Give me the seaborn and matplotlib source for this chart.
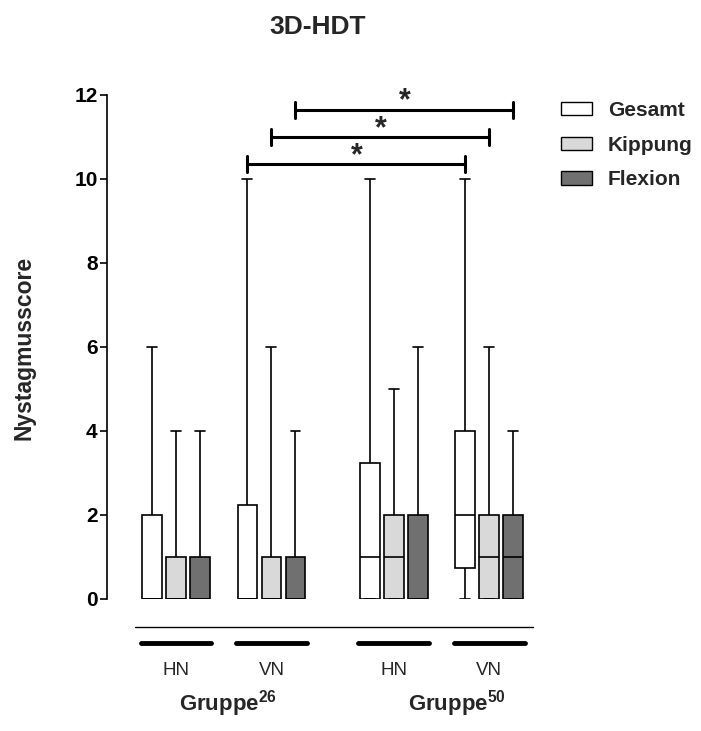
import numpy as np
import pandas as pd
import seaborn as sns
import matplotlib.pyplot as plt
from matplotlib.patches import Patch

# conditions on the x axis
lage = ["HN", "VN", "HN", "VN"]
x_pos = [0, 1, 2.28, 3.28]
gruppen = ["Gruppe$^{\\mathbf{26}}$", "Gruppe$^{\\mathbf{50}}$"]
bedingungen = ["Gesamt", "Kippung", "Flexion"]
farben = ["white", "#d9d9d9", "#707070"]

# five-number summaries (min, Q1, median, Q3, max)
gesamt = [[0, 0, 0, 2, 6], [0, 0, 0, 2.25, 10], [0, 0, 1, 3.25, 10], [0, 0.75, 2, 4, 10]]
kippung = [[0, 0, 0, 1, 4], [0, 0, 0, 1, 6], [0, 0, 1, 2, 5], [0, 0, 1, 2, 6]]
flexion = [[0, 0, 0, 1, 4], [0, 0, 0, 1, 4], [0, 0, 0, 2, 6], [0, 0, 1, 2, 4]]

rows = []
for name, werte in zip(bedingungen, [gesamt, kippung, flexion]):
    for pos, five in zip(x_pos, werte):
        for v in five:
            rows.append({"pos": pos, "Bedingung": name, "score": v})
df = pd.DataFrame(rows)

sns.set_style("white")
plt.rcParams["font.family"] = ["Liberation Sans", "DejaVu Sans"]
plt.rcParams["mathtext.fontset"] = "custom"
plt.rcParams["mathtext.rm"] = "Liberation Sans"
plt.rcParams["mathtext.bf"] = "Liberation Sans:bold"

fig = plt.figure(figsize=(7.01, 7.31), dpi=100)
ax = fig.add_axes([106.7 / 701, 132 / 731, (545 - 106.7) / 701, 504 / 731])

box_w = 0.754
sns.boxplot(data=df, x="pos", y="score", hue="Bedingung", hue_order=bedingungen,
            palette=dict(zip(bedingungen, farben)), saturation=1, native_scale=True,
            width=box_w, gap=0.167, whis=(0, 100), linecolor="black", linewidth=1.2,
            legend=False, ax=ax)

ax.set_xlim(-0.7257, 3.864)
ax.set_ylim(0, 12)
ax.set_yticks(range(0, 13, 2))
ax.set_xticks([])
ax.set_xlabel("")
ax.set_ylabel("")
for s in ["top", "right", "bottom"]:
    ax.spines[s].set_visible(False)
ax.spines["left"].set_bounds(0, 12)
ax.spines["left"].set_linewidth(1.2)
ax.spines["left"].set_color("black")
ax.tick_params(axis="y", left=True, direction="out", length=5, width=1.2,
               labelsize=15, pad=1.5, color="black", labelcolor="black")
for lbl in ax.get_yticklabels():
    lbl.set_fontweight("bold")

fig.text(24 / 701, 1 - 348 / 731, "Nystagmusscore", rotation=90, ha="center",
         va="center", fontsize=16.5, fontweight="bold")
fig.text(318 / 701, 1 - 27 / 731, "3D-HDT", ha="center", va="center",
         fontsize=19, fontweight="bold")

# significance brackets (VN Gruppe26 vs VN Gruppe50, per condition)
dw = box_w / 3
klammer_y = [10.35, 11.0, 11.65]
for k, yb in enumerate(klammer_y):
    x1 = x_pos[1] + (k - 1) * dw
    x2 = x_pos[3] + (k - 1) * dw
    ax.plot([x1, x2], [yb, yb], color="black", lw=2.2, clip_on=False, solid_capstyle="butt")
    for xe in (x1, x2):
        ax.plot([xe, xe], [yb - 0.19, yb + 0.19], color="black", lw=2.2, clip_on=False)
    ax.text((x1 + x2) / 2, yb, "*", ha="center", va="baseline", fontsize=22,
            fontweight="bold")

# group annotation below the boxes
ax.plot([min(x_pos) - 0.43, max(x_pos) + 0.46], [-0.667, -0.667], color="black",
        lw=1.0, clip_on=False)
for pos, lab in zip(x_pos, lage):
    ax.plot([pos - 0.37, pos + 0.37], [-1.05, -1.05], color="black", lw=3.5,
            clip_on=False, solid_capstyle="round")
    ax.text(pos, -1.81, lab, ha="center", va="baseline", fontsize=13.5)
gruppen_x = [0.55, 2.94]
for gx, lab in zip(gruppen_x, gruppen):
    ax.text(gx, -2.66, lab, ha="center", va="baseline", fontsize=16, fontweight="bold")

handles = [Patch(facecolor=c, edgecolor="black", linewidth=1) for c in farben]
fig.legend(handles, bedingungen, loc="upper left", bbox_to_anchor=(561 / 701, 1 - 101 / 731),
           frameon=False, prop=dict(weight="bold", size=15), handlelength=1.5,
           handleheight=0.62, handletextpad=0.75, labelspacing=0.75, borderpad=0,
           borderaxespad=0)

fig.savefig("out.png", dpi=100)
